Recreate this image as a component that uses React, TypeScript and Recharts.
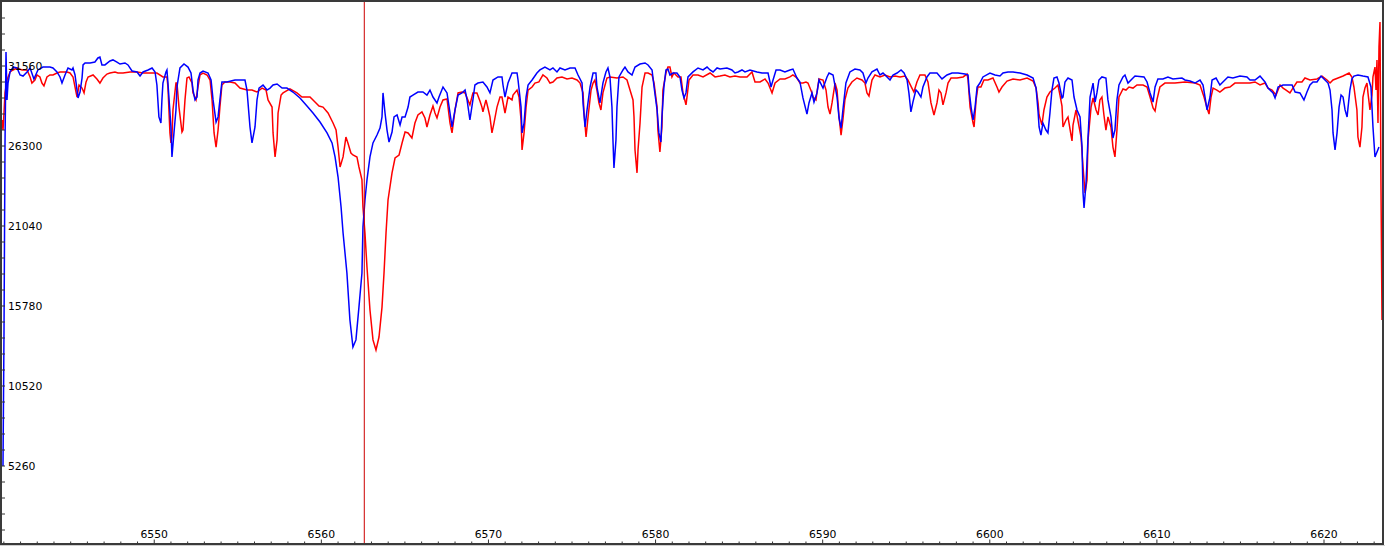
import { Line, LineChart, ReferenceLine, XAxis, YAxis } from "recharts";

// [wavelength (Å), counts]
const blueSpectrum: [number, number][] = [
  [6540.95, 5260], [6541.01, 14070], [6541.07, 26500], [6541.13, 32480], [6541.19, 29330], [6541.25, 30440], [6541.37, 31170], [6541.55, 31490], [6541.79, 31430], [6541.97, 30970],
  [6542.15, 30900], [6542.39, 31170], [6542.57, 31430], [6542.8, 30710], [6543.04, 31300], [6543.34, 31490], [6543.76, 31490], [6543.94, 31430], [6544.18, 31170], [6544.36, 30840],
  [6544.48, 30440], [6544.66, 30970], [6544.84, 31430], [6545.08, 31300], [6545.14, 31430], [6545.26, 30970], [6545.38, 29980], [6545.44, 29460], [6545.56, 29850], [6545.68, 30770],
  [6545.74, 31630], [6545.86, 31760], [6546.16, 31760], [6546.45, 31820], [6546.63, 32090], [6546.75, 32150], [6546.87, 31630], [6547.05, 31630], [6547.35, 31890], [6547.53, 31960],
  [6547.77, 31820], [6547.95, 31690], [6548.25, 31760], [6548.43, 31630], [6548.67, 31230], [6548.97, 31170], [6549.15, 30900], [6549.33, 31170], [6549.63, 31300], [6549.87, 31430],
  [6550.05, 31170], [6550.16, 30310], [6550.28, 28210], [6550.4, 27810], [6550.46, 29330], [6550.52, 30440], [6550.7, 31170], [6550.76, 31300], [6550.82, 30440], [6551.0, 27550],
  [6551.06, 25580], [6551.18, 27160], [6551.3, 28670], [6551.36, 30180], [6551.54, 31430], [6551.78, 31690], [6552.02, 31490], [6552.2, 31100], [6552.32, 29980], [6552.44, 29330],
  [6552.56, 29520], [6552.62, 30640], [6552.74, 31100], [6552.92, 31230], [6553.22, 31100], [6553.4, 30640], [6553.52, 29330], [6553.7, 27880], [6553.82, 28210], [6553.93, 29330],
  [6554.05, 30510], [6554.35, 30510], [6554.83, 30640], [6555.43, 30640], [6555.55, 29980], [6555.73, 27550], [6555.85, 26500], [6556.03, 27550], [6556.15, 29330], [6556.27, 30110],
  [6556.51, 30310], [6556.75, 29980], [6556.93, 30110], [6557.11, 30310], [6557.35, 30380], [6557.65, 30110], [6557.94, 30110], [6558.3, 29850], [6558.72, 29460], [6559.14, 28930],
  [6559.5, 28470], [6559.92, 27880], [6560.34, 27160], [6560.64, 26500], [6560.82, 25580], [6561.0, 24260], [6561.18, 22290], [6561.3, 20580], [6561.53, 17950], [6561.71, 14860],
  [6561.89, 13080], [6562.07, 13550], [6562.25, 15710], [6562.43, 17950], [6562.49, 20970], [6562.61, 22750], [6562.73, 24070], [6562.91, 25580], [6563.09, 26500], [6563.33, 27020],
  [6563.51, 27480], [6563.63, 28210], [6563.69, 29790], [6563.81, 28470], [6563.93, 27350], [6564.05, 26560], [6564.23, 27220], [6564.35, 28210], [6564.53, 28340], [6564.71, 27680],
  [6564.83, 28210], [6565.01, 28210], [6565.19, 28860], [6565.3, 29520], [6565.48, 29650], [6565.78, 29850], [6566.08, 29850], [6566.32, 29650], [6566.5, 29980], [6566.68, 29520],
  [6566.92, 29130], [6567.04, 29520], [6567.28, 30180], [6567.52, 29790], [6567.7, 28470], [6567.82, 27550], [6568.0, 28670], [6568.18, 29650], [6568.42, 29790], [6568.6, 29980],
  [6568.72, 29330], [6568.89, 28010], [6569.07, 29330], [6569.19, 30310], [6569.37, 30440], [6569.67, 30510], [6569.91, 30180], [6570.09, 29790], [6570.27, 30640], [6570.57, 30840],
  [6570.81, 30840], [6570.87, 30310], [6570.99, 29520], [6571.17, 30440], [6571.41, 31100], [6571.71, 31100], [6571.77, 30640], [6571.95, 28860], [6572.01, 27160], [6572.13, 27810],
  [6572.25, 29520], [6572.37, 30310], [6572.61, 30640], [6572.9, 31100], [6573.08, 31300], [6573.38, 31490], [6573.68, 31300], [6573.86, 31430], [6574.1, 31170], [6574.28, 31430],
  [6574.58, 31300], [6574.88, 31430], [6575.18, 31430], [6575.36, 30970], [6575.6, 30440], [6575.66, 29130], [6575.78, 27550], [6575.9, 28670], [6576.08, 30180], [6576.26, 31100],
  [6576.43, 31100], [6576.49, 30180], [6576.67, 29130], [6576.85, 30440], [6577.03, 31170], [6577.15, 31430], [6577.27, 30840], [6577.39, 28860], [6577.45, 26700], [6577.51, 24850],
  [6577.63, 26700], [6577.69, 28860], [6577.81, 30840], [6578.05, 31300], [6578.17, 31490], [6578.35, 31170], [6578.59, 30970], [6578.77, 31490], [6579.07, 31690], [6579.37, 31760],
  [6579.55, 31630], [6579.79, 31300], [6579.91, 30180], [6580.09, 28670], [6580.2, 27160], [6580.32, 26560], [6580.38, 28210], [6580.5, 30180], [6580.62, 31300], [6580.74, 31360],
  [6580.86, 30970], [6581.04, 31100], [6581.28, 31100], [6581.46, 30840], [6581.58, 29980], [6581.7, 29460], [6581.82, 29790], [6581.94, 30840], [6582.24, 31170], [6582.54, 31430],
  [6582.84, 31300], [6583.08, 31490], [6583.26, 31300], [6583.44, 31170], [6583.68, 31430], [6583.86, 31360], [6584.27, 31430], [6584.57, 31300], [6584.75, 31100], [6584.93, 31170],
  [6585.17, 31300], [6585.35, 31170], [6585.65, 31300], [6586.07, 31170], [6586.37, 31100], [6586.73, 31100], [6586.91, 30180], [6587.03, 30640], [6587.21, 31300], [6587.45, 31300],
  [6587.74, 31170], [6588.04, 31300], [6588.22, 31360], [6588.46, 30770], [6588.64, 30510], [6588.82, 29460], [6589.06, 28400], [6589.18, 29130], [6589.36, 29790], [6589.48, 29190],
  [6589.66, 29790], [6589.78, 30640], [6590.02, 30110], [6590.26, 30840], [6590.38, 31100], [6590.62, 30970], [6590.86, 29520], [6590.98, 28140], [6591.1, 27480], [6591.21, 28670],
  [6591.39, 30440], [6591.63, 31170], [6591.93, 31360], [6592.23, 31300], [6592.41, 31100], [6592.59, 30440], [6592.71, 30770], [6592.95, 31170], [6593.25, 31360], [6593.43, 30970],
  [6593.61, 31100], [6593.85, 30840], [6594.03, 30640], [6594.21, 30970], [6594.45, 31100], [6594.69, 31300], [6594.87, 31100], [6595.05, 30640], [6595.16, 29790], [6595.28, 28540],
  [6595.4, 29190], [6595.58, 29980], [6595.7, 29850], [6595.88, 29520], [6596.0, 30180], [6596.24, 30840], [6596.42, 31100], [6596.84, 31100], [6597.14, 30710], [6597.44, 30970],
  [6597.74, 31100], [6598.1, 31100], [6598.52, 31030], [6598.7, 30970], [6598.76, 29980], [6598.88, 28860], [6599.0, 28010], [6599.12, 28860], [6599.24, 30180], [6599.41, 30440],
  [6599.59, 30840], [6600.01, 31100], [6600.31, 30970], [6600.61, 30900], [6600.79, 31100], [6601.09, 31170], [6601.39, 31170], [6601.81, 31100], [6602.23, 30970], [6602.59, 30770],
  [6602.77, 30110], [6602.89, 28540], [6602.95, 27550], [6603.06, 27020], [6603.18, 27810], [6603.36, 27350], [6603.48, 27160], [6603.6, 28470], [6603.72, 29980], [6603.84, 30770],
  [6604.02, 30840], [6604.14, 30440], [6604.32, 29460], [6604.38, 29520], [6604.5, 30510], [6604.68, 30770], [6604.92, 30640], [6605.04, 29520], [6605.22, 28670], [6605.4, 28210],
  [6605.52, 26230], [6605.58, 23210], [6605.64, 22220], [6605.76, 23870], [6605.88, 26890], [6606.0, 29520], [6606.18, 30440], [6606.3, 29190], [6606.41, 29790], [6606.53, 30640],
  [6606.71, 30840], [6606.95, 30770], [6607.07, 29330], [6607.25, 28210], [6607.37, 26830], [6607.49, 27350], [6607.61, 29330], [6607.73, 30310], [6607.97, 30840], [6608.09, 30970],
  [6608.27, 30440], [6608.51, 30710], [6608.69, 30900], [6609.23, 30840], [6609.41, 30510], [6609.59, 29790], [6609.77, 29190], [6609.89, 30180], [6610.06, 30710], [6610.36, 30710],
  [6610.66, 30840], [6610.96, 30710], [6611.5, 30770], [6611.68, 30640], [6611.98, 30570], [6612.28, 30440], [6612.58, 30640], [6612.76, 30310], [6612.88, 29520], [6613.0, 28670],
  [6613.18, 29520], [6613.3, 30640], [6613.54, 30770], [6613.77, 30310], [6613.95, 30510], [6614.25, 30840], [6614.55, 30770], [6614.97, 30900], [6615.39, 30840], [6615.57, 30640],
  [6615.87, 30640], [6616.17, 30900], [6616.47, 30510], [6616.65, 30110], [6616.95, 29790], [6617.07, 29460], [6617.25, 30180], [6617.55, 30310], [6618.09, 30310], [6618.27, 29850],
  [6618.56, 29790], [6618.8, 29330], [6618.98, 29850], [6619.16, 30310], [6619.34, 30510], [6619.58, 30510], [6619.82, 30900], [6620.0, 30710], [6620.24, 30440], [6620.36, 29980],
  [6620.48, 28670], [6620.54, 27160], [6620.66, 26040], [6620.78, 27160], [6620.9, 28860], [6621.02, 29650], [6621.14, 29520], [6621.26, 28670], [6621.38, 28210], [6621.44, 28860],
  [6621.55, 29980], [6621.67, 30710], [6621.79, 30900], [6622.03, 30970], [6622.33, 30900], [6622.63, 30840], [6622.81, 30180], [6622.93, 27550], [6623.05, 25580], [6623.17, 25910],
  [6623.29, 26230],
];

const redSpectrum: [number, number][] = [
  [6540.89, 28010], [6540.95, 27350], [6541.01, 28470], [6541.07, 29790], [6541.19, 30640], [6541.37, 31170], [6541.55, 31300], [6541.79, 31430], [6542.09, 31300], [6542.39, 31300],
  [6542.57, 30840], [6542.68, 30440], [6542.86, 30640], [6542.98, 30970], [6543.16, 30840], [6543.28, 30440], [6543.4, 30250], [6543.58, 30840], [6543.76, 30970], [6543.94, 30970],
  [6544.18, 31100], [6544.36, 31170], [6544.78, 31170], [6544.96, 31100], [6545.14, 30840], [6545.32, 29850], [6545.38, 29520], [6545.5, 30310], [6545.68, 30110], [6545.8, 29790],
  [6545.92, 30510], [6546.04, 30840], [6546.34, 30970], [6546.57, 30710], [6546.75, 30440], [6546.93, 30770], [6547.17, 31030], [6547.35, 31100], [6547.65, 31170], [6547.83, 31100],
  [6548.13, 31100], [6548.55, 31170], [6548.97, 31170], [6549.33, 31100], [6549.75, 31100], [6550.16, 31100], [6550.52, 30840], [6550.76, 30840], [6550.82, 30180], [6550.94, 27160],
  [6551.0, 26500], [6551.06, 26890], [6551.12, 28670], [6551.3, 30440], [6551.36, 30440], [6551.48, 28860], [6551.66, 27220], [6551.72, 27350], [6551.84, 29330], [6551.96, 30770],
  [6552.08, 30840], [6552.26, 30440], [6552.32, 29790], [6552.5, 29330], [6552.62, 30180], [6552.74, 30970], [6552.92, 31100], [6553.16, 30970], [6553.34, 30640], [6553.46, 29330],
  [6553.58, 27160], [6553.7, 26230], [6553.82, 27350], [6553.93, 28860], [6554.05, 30310], [6554.23, 30510], [6554.53, 30510], [6554.83, 30440], [6555.13, 30110], [6555.55, 29980],
  [6555.85, 29980], [6556.15, 29850], [6556.45, 30110], [6556.69, 29980], [6556.81, 29330], [6557.05, 28860], [6557.11, 27160], [6557.23, 25580], [6557.35, 26700], [6557.41, 28470],
  [6557.59, 29650], [6557.71, 29790], [6558.12, 30050], [6558.54, 29790], [6558.84, 29520], [6559.32, 29520], [6559.62, 29190], [6559.86, 28930], [6560.1, 28860], [6560.4, 28470],
  [6560.7, 27810], [6560.88, 27350], [6561.0, 26230], [6561.12, 24920], [6561.3, 25580], [6561.47, 26890], [6561.59, 26500], [6561.77, 25840], [6561.89, 25710], [6562.13, 25580],
  [6562.25, 24920], [6562.43, 24070], [6562.49, 22290], [6562.61, 20580], [6562.73, 18340], [6562.91, 15520], [6563.09, 13550], [6563.27, 12890], [6563.45, 13740], [6563.63, 15710],
  [6563.75, 17950], [6563.87, 20580], [6563.99, 22750], [6564.23, 24530], [6564.41, 25510], [6564.65, 25710], [6564.83, 26500], [6565.01, 27220], [6565.19, 27160], [6565.42, 26830],
  [6565.6, 27810], [6565.78, 28340], [6566.02, 28540], [6566.2, 28140], [6566.32, 27550], [6566.5, 28340], [6566.68, 28930], [6566.8, 28470], [6566.92, 28140], [6567.1, 28860],
  [6567.28, 29330], [6567.52, 29390], [6567.7, 27810], [6567.82, 27160], [6568.0, 28670], [6568.18, 29790], [6568.42, 29850], [6568.6, 29790], [6568.77, 29330], [6568.89, 29000],
  [6569.07, 29790], [6569.31, 29790], [6569.49, 29260], [6569.61, 28860], [6569.67, 28540], [6569.85, 29330], [6569.97, 28800], [6570.09, 28210], [6570.21, 27160], [6570.33, 27810],
  [6570.51, 28860], [6570.69, 29520], [6570.81, 29520], [6570.99, 28470], [6571.17, 29520], [6571.41, 29330], [6571.47, 29650], [6571.71, 29980], [6571.83, 29520], [6571.95, 28010],
  [6572.01, 26040], [6572.13, 27160], [6572.25, 28860], [6572.37, 29980], [6572.61, 30180], [6572.78, 30440], [6573.02, 30510], [6573.26, 30970], [6573.5, 30770], [6573.68, 30440],
  [6573.86, 30510], [6574.1, 30770], [6574.4, 30840], [6574.7, 30710], [6575.0, 30770], [6575.3, 30640], [6575.48, 30440], [6575.66, 29790], [6575.72, 28470], [6575.84, 26890],
  [6575.96, 28210], [6576.14, 29980], [6576.26, 30440], [6576.37, 30640], [6576.49, 29980], [6576.61, 29130], [6576.73, 28670], [6576.85, 29790], [6577.09, 30770], [6577.27, 30840],
  [6577.69, 30770], [6578.05, 30840], [6578.29, 30640], [6578.47, 29980], [6578.65, 29330], [6578.71, 28210], [6578.77, 26040], [6578.89, 24530], [6578.95, 26040], [6579.07, 27810],
  [6579.19, 30180], [6579.37, 31100], [6579.55, 31100], [6579.79, 30970], [6579.91, 30440], [6580.09, 28860], [6580.14, 27350], [6580.26, 25910], [6580.38, 27550], [6580.44, 29980],
  [6580.62, 31100], [6580.74, 31490], [6580.86, 31490], [6580.98, 30840], [6581.1, 31100], [6581.34, 30840], [6581.52, 30840], [6581.64, 29790], [6581.82, 29000], [6581.88, 29520],
  [6582.0, 30640], [6582.24, 30970], [6582.54, 30970], [6582.84, 30840], [6583.26, 31100], [6583.56, 30840], [6583.86, 30900], [6584.15, 30970], [6584.45, 30840], [6584.75, 30900],
  [6585.05, 30840], [6585.47, 30840], [6585.77, 31170], [6585.95, 30510], [6586.25, 30510], [6586.55, 30710], [6586.73, 30440], [6586.97, 29790], [6587.15, 30440], [6587.45, 30710],
  [6587.74, 30710], [6588.04, 30840], [6588.22, 30970], [6588.46, 30770], [6588.64, 30440], [6588.82, 30440], [6589.0, 30510], [6589.12, 30440], [6589.36, 29790], [6589.42, 29520],
  [6589.6, 29330], [6589.66, 29850], [6589.78, 30710], [6590.02, 30640], [6590.2, 29980], [6590.32, 28860], [6590.44, 28400], [6590.56, 29130], [6590.74, 30440], [6590.86, 29980],
  [6590.98, 28210], [6591.1, 27020], [6591.21, 28010], [6591.33, 29330], [6591.51, 30110], [6591.75, 30510], [6592.05, 30770], [6592.35, 30640], [6592.53, 30440], [6592.65, 29790],
  [6592.77, 29590], [6592.95, 30640], [6593.13, 30970], [6593.43, 30840], [6593.73, 30970], [6594.03, 30840], [6594.33, 30900], [6594.63, 30840], [6594.93, 30900], [6595.1, 30640],
  [6595.34, 30110], [6595.46, 29850], [6595.64, 30510], [6595.82, 30970], [6596.12, 30970], [6596.3, 30510], [6596.48, 29130], [6596.66, 28340], [6596.84, 29130], [6596.96, 29980],
  [6597.08, 29790], [6597.2, 29000], [6597.38, 29790], [6597.5, 30440], [6597.68, 30770], [6598.04, 30770], [6598.4, 30840], [6598.64, 31030], [6598.7, 30640], [6598.82, 28860],
  [6599.0, 27810], [6599.06, 27550], [6599.18, 29330], [6599.29, 30180], [6599.47, 30180], [6599.65, 30640], [6599.89, 30640], [6600.19, 30770], [6600.43, 30180], [6600.55, 29850],
  [6600.73, 30180], [6601.03, 30570], [6601.39, 30710], [6601.81, 30640], [6602.23, 30770], [6602.59, 30570], [6602.77, 30110], [6602.89, 29130], [6602.95, 28340], [6603.12, 27680],
  [6603.24, 28670], [6603.42, 29520], [6603.6, 29850], [6603.9, 30110], [6604.08, 30310], [6604.2, 29650], [6604.32, 28930], [6604.38, 27550], [6604.56, 28010], [6604.68, 28210],
  [6604.86, 27020], [6604.92, 26630], [6604.98, 27680], [6605.16, 28670], [6605.28, 27940], [6605.46, 26890], [6605.58, 24920], [6605.7, 23210], [6605.82, 24070], [6605.88, 26700],
  [6606.06, 28860], [6606.18, 29460], [6606.36, 28670], [6606.48, 28340], [6606.59, 29330], [6606.71, 29520], [6606.83, 28340], [6606.95, 27350], [6607.07, 28210], [6607.25, 27550],
  [6607.37, 26230], [6607.49, 25580], [6607.61, 27350], [6607.73, 29520], [6607.97, 30050], [6608.15, 29980], [6608.33, 30180], [6608.57, 30110], [6608.81, 30310], [6609.17, 30310],
  [6609.41, 30180], [6609.59, 29520], [6609.77, 28800], [6609.89, 28600], [6610.0, 29330], [6610.18, 30180], [6610.48, 30440], [6611.08, 30440], [6611.68, 30510], [6612.28, 30440],
  [6612.58, 30310], [6612.82, 29520], [6613.0, 28800], [6613.12, 28400], [6613.24, 29520], [6613.36, 30110], [6613.59, 29980], [6613.77, 29850], [6614.07, 30110], [6614.37, 30180],
  [6614.67, 30440], [6614.97, 30440], [6615.27, 30440], [6615.57, 30440], [6615.87, 30510], [6616.17, 30310], [6616.47, 30440], [6616.65, 30110], [6616.89, 29980], [6617.13, 29650],
  [6617.37, 30310], [6617.55, 30110], [6617.73, 29980], [6617.96, 29790], [6618.14, 30110], [6618.38, 30510], [6618.68, 30510], [6618.86, 30770], [6619.16, 30640], [6619.58, 30710],
  [6619.88, 30900], [6620.18, 30640], [6620.36, 30440], [6620.54, 30640], [6620.84, 30770], [6621.14, 30900], [6621.5, 31100], [6621.67, 30840], [6621.79, 30180], [6621.97, 28670],
  [6622.03, 26890], [6622.15, 26230], [6622.27, 27550], [6622.33, 29520], [6622.45, 30110], [6622.57, 30440], [6622.63, 29790], [6622.75, 28670], [6622.87, 29650], [6622.93, 30840],
  [6623.05, 31490], [6623.11, 29980], [6623.17, 31960], [6623.23, 27810], [6623.29, 32810], [6623.35, 34450], [6623.41, 23600], [6623.47, 14860],
];

const waveLabels = [6550, 6560, 6570, 6580, 6590, 6600, 6610, 6620];
const fluxLabels = [5260, 10520, 15780, 21040, 26300, 31560];
const marker = 6562.57;

const waveDomain = [6540.89, 6623.53];
const fluxDomain = [132, 35834];

// one small tick per Å, one per fifth of a labelled step on the flux axis
const waveTicks = Array.from({ length: 83 }, (_, i) => 6541 + i);
const fluxTicks = Array.from({ length: 33 }, (_, i) => 1052 * (i + 1));

const font = "'DejaVu Sans', Verdana, sans-serif";

function WaveTick({ x, y, payload }: any) {
  const major = waveLabels.includes(payload.value);
  return (
    <g>
      <line x1={x} x2={x} y1={y - 1} y2={y - (major ? 4.5 : 2.5)} stroke="#333" strokeWidth={1} />
      {major && (
        <text x={x} y={y - 6} textAnchor="middle" fontSize={10.8} fontFamily={font} fill="#000">
          {payload.value}
        </text>
      )}
    </g>
  );
}

function FluxTick({ x, y, payload }: any) {
  const major = fluxLabels.includes(payload.value);
  return (
    <g>
      <line x1={x} x2={x + 3} y1={y} y2={y} stroke="#333" strokeWidth={1} />
      {major && (
        <text x={x + 6} y={y} dy="0.36em" textAnchor="start" fontSize={10.8} fontFamily={font} fill="#000">
          {payload.value}
        </text>
      )}
    </g>
  );
}

export default function App() {
  const blueData = blueSpectrum.map(([wave, flux]) => ({ wave, flux }));
  const redData = redSpectrum.map(([wave, flux]) => ({ wave, flux }));
  return (
    <div style={{ position: "absolute", left: 0, top: 0, width: 1385, height: 546, background: "#fff" }}>
      <LineChart width={1385} height={546} margin={{ top: 1, right: 2, bottom: 1, left: 1 }}>
        <XAxis
          type="number"
          dataKey="wave"
          domain={waveDomain}
          allowDataOverflow
          ticks={waveTicks}
          interval={0}
          height={1}
          tickSize={0}
          tickMargin={0}
          axisLine={false}
          tickLine={false}
          tick={<WaveTick />}
        />
        <YAxis
          type="number"
          dataKey="flux"
          domain={fluxDomain}
          allowDataOverflow
          ticks={fluxTicks}
          interval={0}
          width={1}
          tickSize={0}
          tickMargin={0}
          axisLine={false}
          tickLine={false}
          tick={<FluxTick />}
        />
        <Line data={redData} dataKey="flux" stroke="#ff0000" strokeWidth={1.5} dot={false} isAnimationActive={false} />
        <Line data={blueData} dataKey="flux" stroke="#0000ff" strokeWidth={1.5} dot={false} isAnimationActive={false} />
        <ReferenceLine x={marker} stroke="#cc0000" strokeWidth={1} />
      </LineChart>
      <div
        style={{
          position: "absolute",
          left: 0,
          top: 0,
          width: 1384,
          height: 545,
          border: "2px solid #3a3a3a",
          boxSizing: "border-box",
          pointerEvents: "none",
        }}
      />
      <div style={{ position: "absolute", left: 0, top: 545, width: 1385, height: 1, background: "#cfcfcf" }} />
    </div>
  );
}
